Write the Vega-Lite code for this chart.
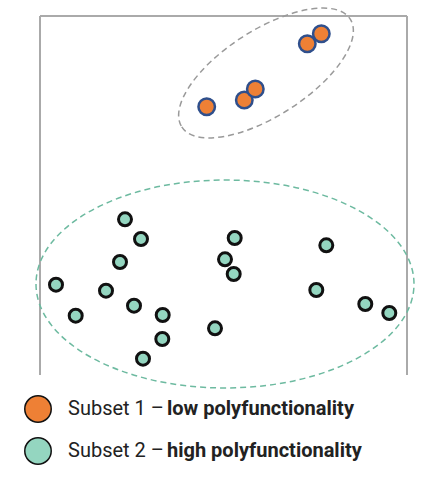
{
  "$schema": "https://vega.github.io/schema/vega-lite/v6.json",
  "width": 367,
  "height": 359,
  "autosize": "none",
  "padding": {"left": 40, "top": 16, "right": 17, "bottom": 107},
  "config": {"view": {"stroke": null}, "font": "Roboto"},
  "datasets": {
    "points": [
      {"x": 166.7, "y": 268.3, "subset": "Subset 1", "level": "low polyfunctionality"},
      {"x": 204.3, "y": 275, "subset": "Subset 1", "level": "low polyfunctionality"},
      {"x": 215.3, "y": 286, "subset": "Subset 1", "level": "low polyfunctionality"},
      {"x": 267.3, "y": 331.3, "subset": "Subset 1", "level": "low polyfunctionality"},
      {"x": 281.3, "y": 341.3, "subset": "Subset 1", "level": "low polyfunctionality"},
      {"x": 85, "y": 155.7, "subset": "Subset 2", "level": "high polyfunctionality"},
      {"x": 101, "y": 136, "subset": "Subset 2", "level": "high polyfunctionality"},
      {"x": 80, "y": 113, "subset": "Subset 2", "level": "high polyfunctionality"},
      {"x": 16, "y": 90.3, "subset": "Subset 2", "level": "high polyfunctionality"},
      {"x": 66, "y": 84.3, "subset": "Subset 2", "level": "high polyfunctionality"},
      {"x": 35.7, "y": 59.3, "subset": "Subset 2", "level": "high polyfunctionality"},
      {"x": 94, "y": 69.3, "subset": "Subset 2", "level": "high polyfunctionality"},
      {"x": 122.7, "y": 60, "subset": "Subset 2", "level": "high polyfunctionality"},
      {"x": 122.3, "y": 36, "subset": "Subset 2", "level": "high polyfunctionality"},
      {"x": 103, "y": 16.3, "subset": "Subset 2", "level": "high polyfunctionality"},
      {"x": 194.7, "y": 137, "subset": "Subset 2", "level": "high polyfunctionality"},
      {"x": 185, "y": 115.7, "subset": "Subset 2", "level": "high polyfunctionality"},
      {"x": 193.7, "y": 101, "subset": "Subset 2", "level": "high polyfunctionality"},
      {"x": 175, "y": 46.7, "subset": "Subset 2", "level": "high polyfunctionality"},
      {"x": 286.3, "y": 129.7, "subset": "Subset 2", "level": "high polyfunctionality"},
      {"x": 276.3, "y": 85, "subset": "Subset 2", "level": "high polyfunctionality"},
      {"x": 325.3, "y": 71, "subset": "Subset 2", "level": "high polyfunctionality"},
      {"x": 349.3, "y": 62, "subset": "Subset 2", "level": "high polyfunctionality"}
    ]
  },
  "layer": [
    {
      "data": {"values": [{}]},
      "mark": {"type": "rule", "color": "#aaaaaa", "strokeWidth": 2},
      "encoding": {"x": {"datum": 0, "type": "quantitative", "scale": {"domain": [0, 367], "nice": false, "zero": false}, "axis": null}}
    },
    {
      "data": {"values": [{}]},
      "mark": {"type": "rule", "color": "#aaaaaa", "strokeWidth": 2},
      "encoding": {"x": {"datum": 367, "type": "quantitative"}}
    },
    {
      "data": {"values": [{}]},
      "mark": {"type": "rule", "color": "#aaaaaa", "strokeWidth": 2},
      "encoding": {"y": {"datum": 359, "type": "quantitative", "scale": {"domain": [0, 359], "nice": false, "zero": false}, "axis": null}}
    },
    {
      "data": {"values": [{"x": 185, "y": 91}]},
      "mark": {
        "type": "point",
        "shape": "M -1 0 A 1 0.55 0 1 0 1 0 A 1 0.55 0 1 0 -1 0 Z",
        "size": 142884,
        "filled": false,
        "stroke": "#6dbaa0",
        "strokeWidth": 1.5,
        "strokeDash": [6, 4],
        "opacity": 1
      },
      "encoding": {
        "x": {"field": "x", "type": "quantitative"},
        "y": {"field": "y", "type": "quantitative"}
      }
    },
    {
      "data": {"values": [{"x": 226, "y": 302}]},
      "mark": {
        "type": "point",
        "shape": "M -1 0 A 1 0.43 0 1 0 1 0 A 1 0.43 0 1 0 -1 0 Z",
        "size": 40000,
        "angle": 327.4,
        "filled": false,
        "stroke": "#9a9a9a",
        "strokeWidth": 1.5,
        "strokeDash": [6, 4],
        "opacity": 1
      },
      "encoding": {
        "x": {"field": "x", "type": "quantitative"},
        "y": {"field": "y", "type": "quantitative"}
      }
    },
    {
      "data": {"name": "points"},
      "mark": {"type": "point", "filled": true, "opacity": 1, "strokeOpacity": 1},
      "encoding": {
        "x": {"field": "x", "type": "quantitative"},
        "y": {"field": "y", "type": "quantitative"},
        "fill": {
          "field": "subset",
          "type": "nominal",
          "scale": {"domain": ["Subset 1", "Subset 2"], "range": ["#ee8035", "#94d6c0"]},
          "legend": {
            "orient": "none",
            "legendX": -16,
            "legendY": 379,
            "title": null,
            "padding": 0,
            "symbolType": "circle",
            "symbolSize": 700,
            "symbolStrokeWidth": 1.5,
            "symbolOpacity": 1,
            "labelFont": "Roboto",
            "labelFontSize": 20,
            "labelColor": "#222222",
            "labelOffset": 16,
            "rowPadding": 8,
            "labelExpr": "datum.label + ' \u2013'",
            "encode": {
              "symbols": {
                "update": {
                  "stroke": {"signal": "datum.value === 'Subset 1' ? '#111111' : '#5b7fa8'"},
                  "fill": {"signal": "datum.value === 'Subset 1' ? '#ee8035' : '#94d6c0'"},
                  "strokeWidth": {"value": 1.5}
                }
              }
            }
          }
        },
        "shape": {
          "field": "level",
          "type": "nominal",
          "scale": {"domain": ["low polyfunctionality", "high polyfunctionality"], "range": ["circle", "circle"]},
          "legend": {
            "orient": "none",
            "legendX": 84,
            "legendY": 379,
            "title": null,
            "padding": 0,
            "symbolSize": 700,
            "symbolOpacity": 0,
            "symbolStrokeWidth": 0,
            "labelFont": "Roboto",
            "labelFontSize": 20,
            "labelFontWeight": "bold",
            "labelColor": "#222222",
            "labelOffset": 16,
            "rowPadding": 15,
            "labelLimit": 400
          }
        },
        "stroke": {
          "condition": {"test": "datum.subset === 'Subset 1'", "value": "#2f4f8c"},
          "value": "#111111"
        },
        "strokeWidth": {
          "condition": {"test": "datum.subset === 'Subset 1'", "value": 2.5},
          "value": 3
        },
        "size": {
          "condition": {"test": "datum.subset === 'Subset 1'", "value": 272},
          "value": 169
        }
      }
    }
  ]
}
